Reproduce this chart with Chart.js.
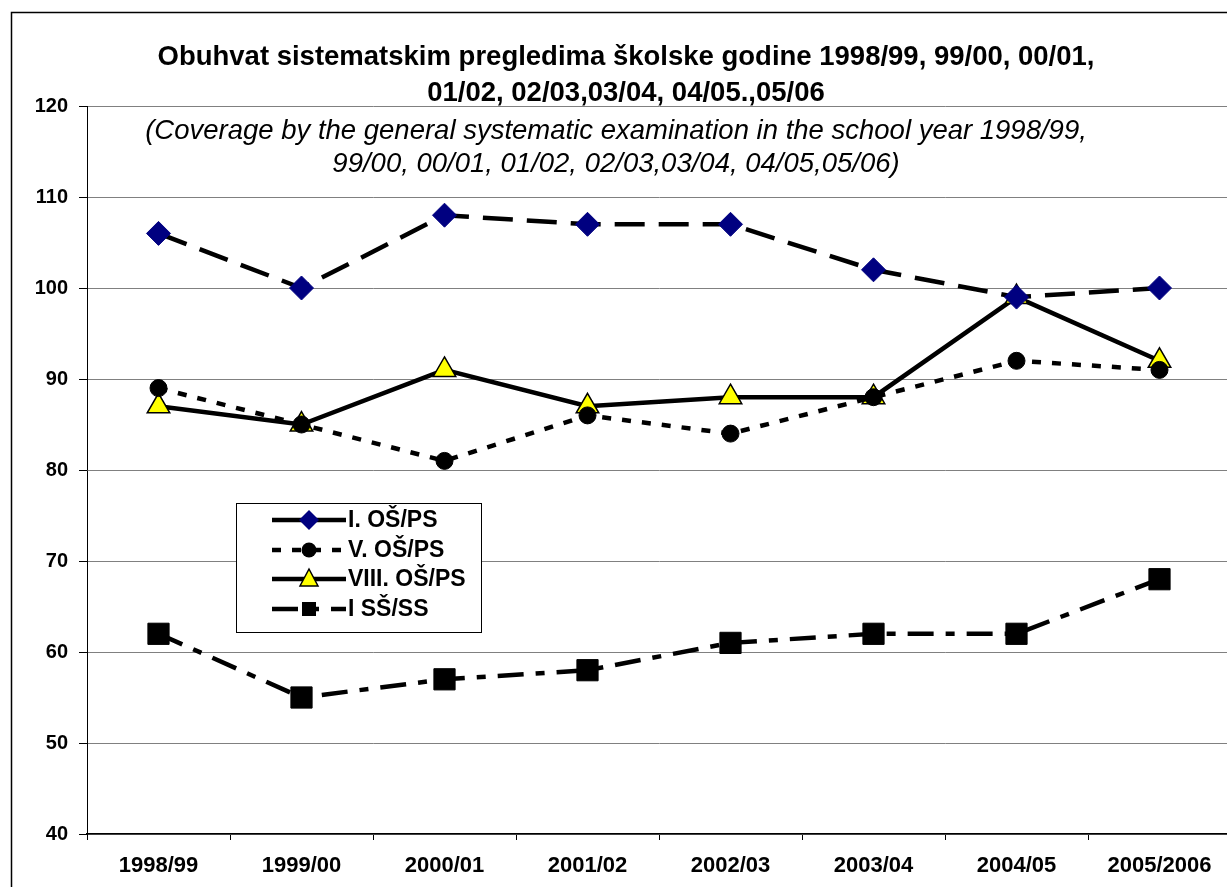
<!DOCTYPE html>
<html lang="hr">
<head>
    <meta charset="UTF-8">
    <title>Obuhvat sistematskim pregledima</title>
    <script src="https://cdn.jsdelivr.net/npm/chart.js"></script>
    <style>
        html, body {
            margin: 0;
            padding: 0;
            background: #ffffff;
            overflow: hidden;
        }
        #wrap {
            position: relative;
            width: 1247px;
            height: 887px;
        }
    </style>
</head>
<body>
    <div id="wrap">
        <canvas id="lineChart" width="1247" height="887"></canvas>
    </div>

    <script>
        // kategorije (školske godine)
        const years = ["1998/99", "1999/00", "2000/01", "2001/02", "2002/03", "2003/04", "2004/05", "2005/2006"];

        // serije
        const prvi_os = [106, 100, 108, 107, 107, 102, 99, 100];
        const peti_os = [89, 85, 81, 86, 84, 88, 92, 91];
        const osmi_os = [87, 85, 91, 87, 88, 88, 99, 92];
        const prvi_ss = [62, 55, 57, 58, 61, 62, 62, 68];

        const seriesNames = ["I. OŠ/PS", "V. OŠ/PS", "VIII. OŠ/PS", "I SŠ/SS"];
        const yTicks = [40, 50, 60, 70, 80, 90, 100, 110, 120];

        const titleLines = [
            "Obuhvat sistematskim pregledima školske godine 1998/99, 99/00, 00/01,",
            "01/02, 02/03,03/04, 04/05.,05/06"
        ];
        const subtitleLines = [
            "(Coverage by the general systematic examination in the school year 1998/99,",
            "99/00, 00/01, 01/02, 02/03,03/04, 04/05,05/06)"
        ];

        const FONT = "'Liberation Sans', Arial, sans-serif";

        // okvir, naslovi i legenda
        const decor = {
            id: 'decor',
            beforeDraw(chart) {
                const c = chart.ctx;
                c.save();
                c.strokeStyle = '#000';
                c.lineWidth = 1.5;
                c.beginPath();
                c.moveTo(11.5, 900);
                c.lineTo(11.5, 12.5);
                c.lineTo(1260, 12.5);
                c.stroke();
                c.restore();
            },
            afterDraw(chart) {
                const c = chart.ctx;
                c.save();
                c.fillStyle = '#000';
                c.textAlign = 'center';
                c.textBaseline = 'middle';
                c.font = 'bold 27.5px ' + FONT;
                c.fillText(titleLines[0], 626, 57);
                c.fillText(titleLines[1], 626, 93);
                c.font = 'italic 27.5px ' + FONT;
                c.fillText(subtitleLines[0], 616, 131);
                c.fillText(subtitleLines[1], 616, 164);

                // legenda
                const bx = 236, by = 503, bw = 245, bh = 129;
                c.fillStyle = '#fff';
                c.fillRect(bx, by, bw, bh);
                c.strokeStyle = '#000';
                c.lineWidth = 1;
                c.strokeRect(bx + 0.5, by + 0.5, bw, bh);

                const ds = chart.data.datasets;
                const rows = [520, 550, 579, 609];
                ds.forEach((d, i) => {
                    const y = rows[i];
                    c.strokeStyle = '#000';
                    c.lineWidth = 4.5;
                    c.setLineDash(d.borderDash || []);
                    c.lineDashOffset = 0;
                    c.beginPath();
                    c.moveTo(272, y);
                    c.lineTo(346, y);
                    c.stroke();
                    c.setLineDash([]);
                    // marker
                    const mx = 309;
                    c.fillStyle = d.pointBackgroundColor;
                    c.strokeStyle = d.pointBorderColor;
                    c.lineWidth = d.pointBorderWidth;
                    c.beginPath();
                    const r = 10;
                    if (d.pointStyle === 'rectRot') {
                        c.moveTo(mx, y - r); c.lineTo(mx + r, y); c.lineTo(mx, y + r); c.lineTo(mx - r, y); c.closePath();
                        c.fill();
                    } else if (d.pointStyle === 'circle') {
                        c.arc(mx, y, 7.5, 0, Math.PI * 2);
                        c.fill();
                    } else if (d.pointStyle === 'triangle') {
                        c.moveTo(mx, y - 10); c.lineTo(mx + 9, y + 7); c.lineTo(mx - 9, y + 7); c.closePath();
                        c.fill(); c.stroke();
                    } else {
                        c.rect(mx - 7, y - 7, 14, 14);
                        c.fill();
                    }
                    c.fillStyle = '#000';
                    c.textAlign = 'left';
                    c.font = 'bold 23px ' + FONT;
                    c.fillText(d.label, 348, y + 1);
                });
                c.restore();
            }
        };

        const ctx = document.getElementById('lineChart').getContext('2d');
        new Chart(ctx, {
            type: 'line',
            data: {
                labels: years,
                datasets: [
                    {
                        label: seriesNames[0],
                        data: prvi_os,
                        borderColor: '#000',
                        borderWidth: 4.5,
                        borderDash: [30, 14],
                        pointStyle: 'rectRot',
                        pointRadius: 12,
                        pointBackgroundColor: '#000080',
                        pointBorderColor: '#000080',
                        pointBorderWidth: 1
                    },
                    {
                        label: seriesNames[1],
                        data: peti_os,
                        borderColor: '#000',
                        borderWidth: 4.5,
                        borderDash: [9, 11],
                        pointStyle: 'circle',
                        pointRadius: 8.5,
                        pointBackgroundColor: '#000',
                        pointBorderColor: '#000',
                        pointBorderWidth: 1
                    },
                    {
                        label: seriesNames[2],
                        data: osmi_os,
                        borderColor: '#000',
                        borderWidth: 4.5,
                        pointStyle: 'triangle',
                        pointRadius: 13,
                        pointBackgroundColor: '#ffff00',
                        pointBorderColor: '#000',
                        pointBorderWidth: 1.5
                    },
                    {
                        label: seriesNames[3],
                        data: prvi_ss,
                        borderColor: '#000',
                        borderWidth: 4.5,
                        borderDash: [26, 12, 9, 12],
                        pointStyle: 'rect',
                        pointRadius: 15,
                        pointBackgroundColor: '#000',
                        pointBorderColor: '#000',
                        pointBorderWidth: 1
                    }
                ]
            },
            options: {
                responsive: false,
                animation: false,
                layout: { padding: { top: 106, left: 0, right: 0, bottom: 0 } },
                plugins: {
                    legend: { display: false },
                    title: { display: false },
                    tooltip: { enabled: false }
                },
                scales: {
                    x: {
                        offset: true,
                        afterFit(s) { s.height = 53; s.paddingLeft = 0; s.paddingRight = 0; },
                        grid: {
                            offset: true,
                            drawOnChartArea: false,
                            drawTicks: true,
                            tickLength: 6,
                            color: '#000'
                        },
                        border: { color: '#000', width: 1.5 },
                        ticks: {
                            color: '#000',
                            padding: 13,
                            maxRotation: 0,
                            font: { family: FONT, size: 22, weight: 'bold' }
                        }
                    },
                    y: {
                        min: 40,
                        max: 120,
                        afterFit(s) { s.width = 87; },
                        afterBuildTicks(s) { s.ticks = yTicks.map(v => ({ value: v })); },
                        grid: {
                            color: '#808080',
                            lineWidth: 1,
                            tickLength: 8,
                            tickColor: '#000'
                        },
                        border: { color: '#000', width: 1 },
                        ticks: {
                            color: '#000',
                            padding: 11,
                            font: { family: FONT, size: 20, weight: 'bold' }
                        }
                    }
                }
            },
            plugins: [decor]
        });
    </script>
</body>
</html>
